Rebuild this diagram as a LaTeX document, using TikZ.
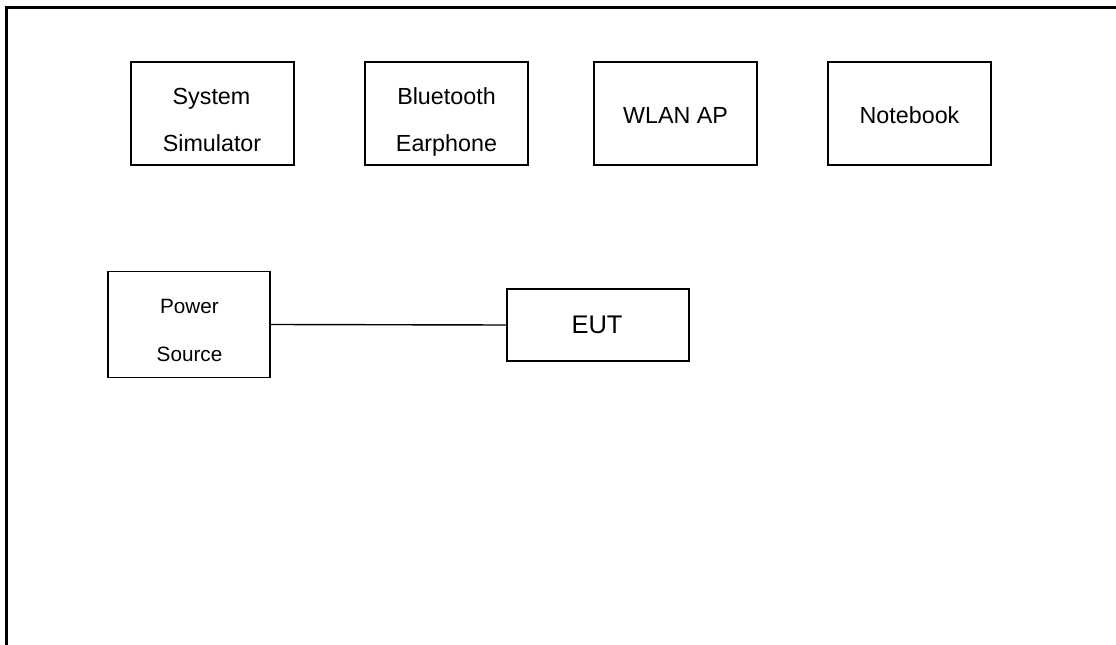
\documentclass[tikz,border=0pt]{standalone}
\usepackage{fontspec}
\setmainfont{Liberation Sans}
\begin{document}
\begin{tikzpicture}[x=1bp,y=-1bp,
  box/.style={draw=black, line width=1.3bp, rectangle, inner sep=0pt},
  txt/.style={inner sep=0pt, anchor=base},
  big/.style={txt, font=\fontsize{23.3bp}{28bp}\selectfont},
  small/.style={txt, font=\fontsize{20.7bp}{25bp}\selectfont},
  eut/.style={txt, font=\fontsize{25.5bp}{30bp}\selectfont},
  conn/.style={draw=black, line width=1.4bp}]
\fill[white] (0,0) rectangle (1116,645);
\useasboundingbox (0,0) rectangle (1116,645);
% outer frame (top and left edges visible)
\coordinate (ftl) at (6.2,7.6);
\coordinate (ftr) at (1116,7.6);
\coordinate (fbl) at (6.2,645);
\begin{scope}
\clip (0,0) rectangle (1116,645);
\draw[line width=2.6bp] (fbl) -- (ftl) -- (ftr);
\end{scope}
% boxes
\node[box, minimum width=163bp, minimum height=103bp] (sim) at (212.5,113.5) {};
\node[box, minimum width=163bp, minimum height=103bp] (bt) at (446.5,113.5) {};
\node[box, minimum width=163bp, minimum height=103bp] (wlan) at (675.5,113.5) {};
\node[box, minimum width=163bp, minimum height=103bp] (nb) at (909.5,113.5) {};
\node[box, minimum width=162bp, minimum height=106bp] (ps) at (189,324.5) {};
\node[box, minimum width=182bp, minimum height=72bp] (eut) at (598,325) {};
% texts
\node[big] (sim1) at (211.5,104.3) {System};
\node[big] (sim2) at (212,151.7) {Simulator};
\node[big] (bt1) at (446.5,104.3) {Bluetooth};
\node[big] (bt2) at (446.5,151.7) {Earphone};
\node[big] (wlan1) at (675.5,123.3) {WLAN AP};
\node[big] (nb1) at (909.5,123.3) {Notebook};
\node[small] (ps1) at (189.5,314) {Power};
\node[small] (ps2) at (189.5,361.5) {Source};
\node[eut] (eut1) at (597,333.3) {EUT};
% connector
\draw[conn] (ps.east) -- (eut.west);
\end{tikzpicture}
\end{document}
